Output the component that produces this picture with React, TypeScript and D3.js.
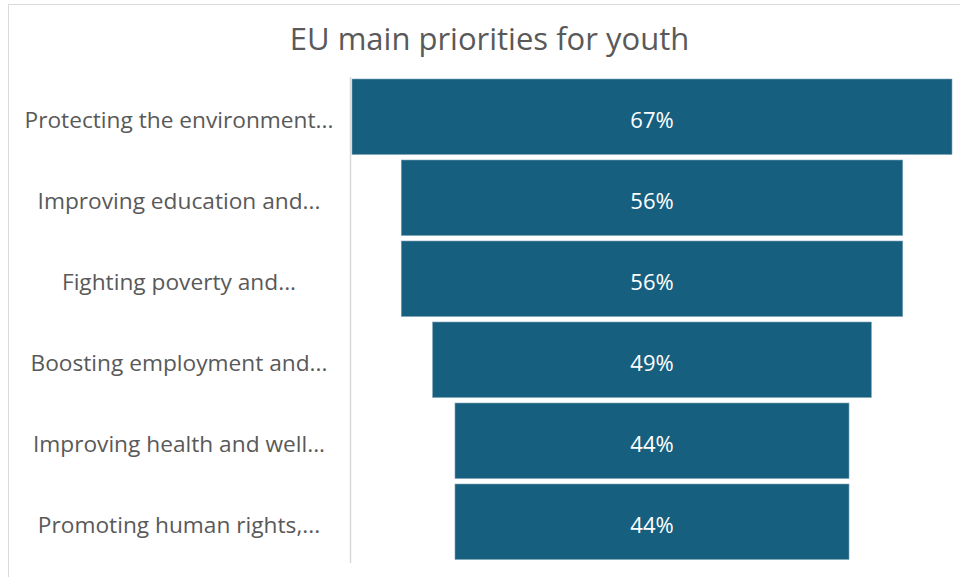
import React from "react";
import * as d3 from "d3";

const categories: string[] = [
  "Protecting the environment...",
  "Improving education and...",
  "Fighting poverty and...",
  "Boosting employment and...",
  "Improving health and well...",
  "Promoting human rights,...",
];
const values: number[] = [67, 56, 56, 49, 44, 44];
const title = "EU main priorities for youth";

const W = 960;
const H = 577;

export default function App() {
  const centerX = 652;
  const halfMax = 300;
  const w = d3.scaleLinear().domain([0, d3.max(values) as number]).range([0, halfMax * 2]);
  const y = d3.scaleBand<string>().domain(categories).range([79, 559.5]).paddingInner(0.068).paddingOuter(0);
  const font = "'Open Sans', 'DejaVu Sans', sans-serif";
  return (
    <svg width={W} height={H} style={{ position: "absolute", left: 0, top: 0, background: "#fff" }}>
      <rect x={8.5} y={4.5} width={W} height={H} fill="#fff" stroke="#d9d9d9" strokeWidth={1} />
      <text x={489.5} y={50} textAnchor="middle" fontFamily={font} fontSize={31} fill="#595959">
        {title}
      </text>
      <line x1={350.5} x2={350.5} y1={77} y2={563} stroke="#d9d9d9" strokeWidth={1.5} />
      {categories.map((c, i) => {
        const bw = w(values[i]);
        const yy = y(c) as number;
        const cy = yy + y.bandwidth() / 2;
        return (
          <g key={c}>
            <rect x={centerX - bw / 2} y={yy} width={bw} height={y.bandwidth()} fill="#175f7f" stroke="#7fa3b8" strokeWidth={0.6} />
            <text x={centerX} y={cy + 11} textAnchor="middle" fontFamily={font} fontSize={22} fill="#ffffff">
              {values[i]}%
            </text>
            <text x={179} y={cy + 11.5} textAnchor="middle" fontFamily={font} fontSize={22.7} fill="#595959">
              {c}
            </text>
          </g>
        );
      })}
    </svg>
  );
}
